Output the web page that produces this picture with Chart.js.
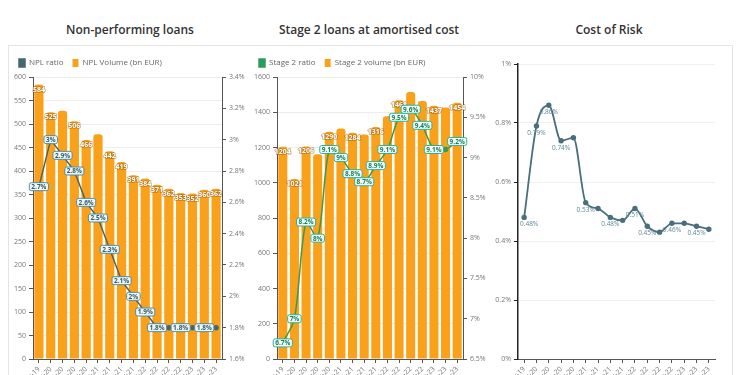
<!DOCTYPE html>
<html>
<head>
<meta charset="utf-8">
<script src="https://cdn.jsdelivr.net/npm/chart.js@4.4.0/dist/chart.umd.min.js"></script>
<style>
  html, body { margin: 0; padding: 0; width: 740px; height: 375px; overflow: hidden; background: #fff; font-family: "Open Sans", sans-serif; }
  .frame { position: absolute; left: 8px; right: 7px; top: 45px; height: 400px; border: 1px solid #e4e4e4; border-bottom: none; }
  .title { position: absolute; top: 21px; width: 240px; text-align: center; font-size: 12px; font-weight: 600; color: #333; }
  .box { position: absolute; top: 50px; width: 240px; height: 380px; }
</style>
</head>
<body>
<div class="frame"></div>
<div class="title" style="left:10px">Non-performing loans</div>
<div class="title" style="left:249px">Stage 2 loans at amortised cost</div>
<div class="title" style="left:489px">Cost of Risk</div>
<div class="box" style="left:10px"><canvas id="nplChart"></canvas></div>
<div class="box" style="left:250px"><canvas id="stage2Chart"></canvas></div>
<div class="box" style="left:490px"><canvas id="corChart"></canvas></div>

<script>
const quarters = ['Dec-19', 'Mar-20', 'Jun-20', 'Sep-20', 'Dec-20', 'Mar-21', 'Jun-21', 'Sep-21',
                  'Dec-21', 'Mar-22', 'Jun-22', 'Sep-22', 'Dec-22', 'Mar-23', 'Jun-23', 'Sep-23'];

const nplVolume = [584, 525, 528, 506, 466, 478, 442, 419, 391, 384, 371, 362, 353, 352, 360, 362];
const nplRatio = [2.7, 3.0, 2.9, 2.8, 2.6, 2.5, 2.3, 2.1, 2.0, 1.9, 1.8, 1.8, 1.8, 1.8, 1.8, 1.8];

const stage2Volume = [1204, 1021, 1206, 1162, 1290, 1308, 1284, 1274, 1316, 1378, 1468, 1515, 1464, 1437, 1427, 1454];
const stage2Ratio = [6.7, 7.0, 8.2, 8.0, 9.1, 9.0, 8.8, 8.7, 8.9, 9.1, 9.5, 9.6, 9.4, 9.1, 9.1, 9.2];

const costOfRisk = [0.48, 0.79, 0.86, 0.74, 0.75, 0.53, 0.51, 0.48, 0.47, 0.51, 0.45, 0.43, 0.46, 0.46, 0.45, 0.44];

// which points carry a visible data label (the others are hidden in the original)
const nplVolumeLabels = [0, 1, 3, 4, 6, 7, 8, 9, 10, 11, 12, 13, 14, 15];
const nplRatioLabels = [0, 1, 2, 3, 4, 5, 6, 7, 8, 9, 10, 12, 14];
const stage2VolumeLabels = [0, 1, 2, 4, 6, 8, 10, 13, 15];
const stage2RatioLabels = [0, 1, 2, 3, 4, 5, 6, 7, 8, 9, 10, 11, 12, 13, 15];
const corLabels = [0, 1, 2, 3, 5, 7, 9, 10, 12, 14];

const orange = '#F9A11B';
const tickFont = { family: 'Open Sans', size: 7 };
const tickColor = '#777';
const axisColor = '#555';

const pct = v => +v.toFixed(1) + '%';

const valueLabels = {
    id: 'valueLabels',
    afterDatasetsDraw(chart) {
        const ctx = chart.ctx;
        const area = chart.chartArea;
        for (let i = chart.data.datasets.length - 1; i >= 0; i--) {
            const ds = chart.data.datasets[i];
            if (!ds.labelAt) continue;
            const meta = chart.getDatasetMeta(i);
            ctx.save();
            ctx.textAlign = 'center';
            ctx.textBaseline = 'middle';
            ds.labelAt.forEach(idx => {
                const el = meta.data[idx];
                const text = ds.labelText(ds.data[idx]);
                if (ds.labelStyle === 'bar') {
                    ctx.font = 'bold 7px "Open Sans"';
                    ctx.lineWidth = 1.5;
                    ctx.strokeStyle = 'rgba(140,80,0,0.5)';
                    ctx.strokeText(text, el.x, el.y + 5);
                    ctx.fillStyle = '#fff';
                    ctx.fillText(text, el.x, el.y + 5);
                } else if (ds.labelStyle === 'box') {
                    ctx.font = 'bold 6.5px "Open Sans"';
                    const w = ctx.measureText(text).width + 4;
                    const h = 8;
                    ctx.beginPath();
                    ctx.roundRect(el.x - w / 2, el.y - h / 2, w, h, 2);
                    ctx.fillStyle = ds.labelFill;
                    ctx.fill();
                    ctx.lineWidth = 1;
                    ctx.strokeStyle = ds.labelBorder;
                    ctx.stroke();
                    ctx.fillStyle = ds.labelColor;
                    ctx.fillText(text, el.x, el.y + 0.5);
                } else {
                    ctx.font = '6.5px "Open Sans"';
                    const w = ctx.measureText(text).width;
                    let x = Math.max(el.x, area.left + w / 2 + 2);
                    ctx.fillStyle = ds.labelColor;
                    ctx.fillText(text, x, el.y + 7);
                }
            });
            ctx.restore();
        }
    }
};

function xAxis() {
    return {
        ticks: { font: tickFont, color: tickColor, maxRotation: 45, minRotation: 45, autoSkip: false, padding: 2 },
        grid: { display: true, drawOnChartArea: false, offset: false, tickColor: axisColor, tickLength: 4 },
        border: { color: axisColor },
        afterFit(s) { s.height = 71; }
    };
}

const legendOpts = {
    display: true,
    position: 'top',
    align: 'start',
    labels: { font: { family: 'Open Sans', size: 8 }, color: '#666', boxWidth: 6, boxHeight: 8, padding: 9 }
};

new Chart(document.getElementById('nplChart'), {
    type: 'bar',
    data: {
        labels: quarters,
        datasets: [{
            type: 'line',
            label: 'NPL ratio',
            data: nplRatio,
            yAxisID: 'y1',
            borderColor: '#4d6466',
            backgroundColor: '#3e6878',
            borderWidth: 1.5,
            pointRadius: 2,
            pointBackgroundColor: '#4d6466',
            tension: 0,
            order: 0,
            labelAt: nplRatioLabels,
            labelText: pct,
            labelStyle: 'box',
            labelFill: '#eef6f8',
            labelBorder: '#4f8ea2',
            labelColor: '#2e5f70'
        }, {
            label: 'NPL Volume (bn EUR)',
            data: nplVolume,
            yAxisID: 'y',
            backgroundColor: orange,
            borderRadius: { topLeft: 3, topRight: 3 },
            borderSkipped: 'bottom',
            categoryPercentage: 1,
            barPercentage: 0.78,
            order: 1,
            labelAt: nplVolumeLabels,
            labelText: v => String(v),
            labelStyle: 'bar'
        }]
    },
    options: {
        responsive: true,
        maintainAspectRatio: false,
        animation: false,
        layout: { padding: { top: 0, left: 0, right: 0, bottom: 0 } },
        plugins: { legend: legendOpts, tooltip: { enabled: false } },
        scales: {
            x: xAxis(),
            y: {
                position: 'left', min: 0, max: 600,
                ticks: { stepSize: 50, font: tickFont, color: tickColor, padding: 3, callback: v => String(v) },
                grid: { color: '#ededed', tickColor: axisColor, tickLength: 4 },
                border: { color: axisColor },
                afterFit(s) { s.width = 23; }
            },
            y1: {
                position: 'right', min: 1.6, max: 3.4,
                ticks: { stepSize: 0.2, font: tickFont, color: tickColor, padding: 3, callback: pct },
                grid: { drawOnChartArea: false, tickColor: axisColor, tickLength: 4 },
                border: { color: axisColor },
                afterFit(s) { s.width = 28; }
            }
        }
    },
    plugins: [valueLabels]
});

new Chart(document.getElementById('stage2Chart'), {
    type: 'bar',
    data: {
        labels: quarters,
        datasets: [{
            type: 'line',
            label: 'Stage 2 ratio',
            data: stage2Ratio,
            yAxisID: 'y1',
            borderColor: '#3a9b4a',
            backgroundColor: '#1f9e6e',
            borderWidth: 1.5,
            pointRadius: 2,
            pointBackgroundColor: '#3a9b4a',
            tension: 0.3,
            order: 0,
            labelAt: stage2RatioLabels,
            labelText: pct,
            labelStyle: 'box',
            labelFill: '#f4fffb',
            labelBorder: '#2ab39b',
            labelColor: '#13805f'
        }, {
            label: 'Stage 2 volume (bn EUR)',
            data: stage2Volume,
            yAxisID: 'y',
            backgroundColor: orange,
            borderRadius: { topLeft: 3, topRight: 3 },
            borderSkipped: 'bottom',
            categoryPercentage: 1,
            barPercentage: 0.78,
            order: 1,
            labelAt: stage2VolumeLabels,
            labelText: v => String(v),
            labelStyle: 'bar'
        }]
    },
    options: {
        responsive: true,
        maintainAspectRatio: false,
        animation: false,
        layout: { padding: { top: 0, left: 0, right: 0, bottom: 0 } },
        plugins: { legend: legendOpts, tooltip: { enabled: false } },
        scales: {
            x: xAxis(),
            y: {
                position: 'left', min: 0, max: 1600,
                ticks: { stepSize: 200, font: tickFont, color: tickColor, padding: 3, callback: v => String(v) },
                grid: { color: '#ededed', tickColor: axisColor, tickLength: 4 },
                border: { color: axisColor },
                afterFit(s) { s.width = 27; }
            },
            y1: {
                position: 'right', min: 6.5, max: 10,
                ticks: { stepSize: 0.5, font: tickFont, color: tickColor, padding: 3, callback: pct },
                grid: { drawOnChartArea: false, tickColor: axisColor, tickLength: 4 },
                border: { color: axisColor },
                afterFit(s) { s.width = 27; }
            }
        }
    },
    plugins: [valueLabels]
});

new Chart(document.getElementById('corChart'), {
    type: 'line',
    data: {
        labels: quarters,
        datasets: [{
            label: 'Cost of Risk',
            data: costOfRisk,
            borderColor: '#4a6f7c',
            backgroundColor: '#4a6f7c',
            borderWidth: 1.8,
            pointRadius: 1.8,
            cubicInterpolationMode: 'monotone',
            labelAt: corLabels,
            labelText: v => v.toFixed(2) + '%',
            labelStyle: 'plain',
            labelColor: '#5f8796'
        }]
    },
    options: {
        responsive: true,
        maintainAspectRatio: false,
        animation: false,
        layout: { padding: { top: 14, left: 0, right: 15, bottom: 0 } },
        plugins: { legend: { display: false }, tooltip: { enabled: false } },
        scales: {
            x: Object.assign(xAxis(), { offset: true }),
            y: {
                min: 0, max: 1,
                ticks: { stepSize: 0.2, font: tickFont, color: tickColor, padding: 3, callback: pct },
                grid: { color: '#efefef', tickColor: '#222', tickLength: 4 },
                border: { color: '#222', width: 1.5 },
                afterFit(s) { s.width = 28; }
            }
        }
    },
    plugins: [valueLabels]
});
</script>
</body>
</html>
